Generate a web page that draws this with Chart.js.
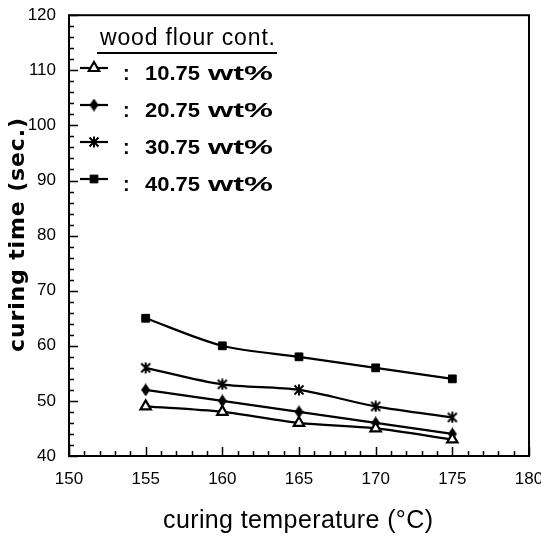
<!DOCTYPE html>
<html>
<head>
<meta charset="utf-8">
<script src="https://cdn.jsdelivr.net/npm/chart.js@4.4.1/dist/chart.umd.min.js"></script>
<style>
  html, body { margin: 0; padding: 0; background: #fff; }
  #wrap { width: 541px; height: 537px; }
</style>
</head>
<body>
<div id="wrap"><canvas id="chart" width="541" height="537"></canvas></div>
<script>
// data
const temps = [155, 160, 165, 170, 175];
const wf1075 = [49, 48, 46, 45, 43];
const wf2075 = [52, 50, 48, 46, 44];
const wf3075 = [56, 53, 52, 49, 47];
const wf4075 = [65, 60, 58, 56, 54];
const seriesLabels = [": 10.75 wt%", ": 20.75 wt%", ": 30.75 wt%", ": 40.75 wt%"];
const xTicks = [150, 155, 160, 165, 170, 175, 180];
const yTicks = [40, 50, 60, 70, 80, 90, 100, 110, 120];

const legendTitle = "wood flour cont.";
const xTitle = "curing temperature (\u00B0C)";
const yTitle = "curing time (sec.)";

const SANS = "'Liberation Sans', Arial, Helvetica, sans-serif";
const WIDE = "'DejaVu Sans', Verdana, sans-serif";

// tall black diamond marker
function tallDiamond(w, h) {
  const c = document.createElement("canvas");
  c.width = w;
  c.height = h;
  const g = c.getContext("2d");
  g.fillStyle = "#000";
  g.beginPath();
  g.moveTo(w / 2, 0);
  g.lineTo(w, h / 2);
  g.lineTo(w / 2, h);
  g.lineTo(0, h / 2);
  g.closePath();
  g.fill();
  return c;
}

// asterisk marker: vertical bar + X
function asterisk(s) {
  const c = document.createElement("canvas");
  c.width = s;
  c.height = s;
  const g = c.getContext("2d");
  g.strokeStyle = "#000";
  g.lineWidth = 2;
  g.beginPath();
  g.moveTo(s / 2, 0.5);
  g.lineTo(s / 2, s - 0.5);
  g.moveTo(1.5, 1.5);
  g.lineTo(s - 1.5, s - 1.5);
  g.moveTo(s - 1.5, 1.5);
  g.lineTo(1.5, s - 1.5);
  g.stroke();
  return c;
}

const diamond = tallDiamond(9, 13);
const star = asterisk(12);

function toPoints(ys) {
  return temps.map((t, i) => ({ x: t, y: ys[i] }));
}

const base = {
  borderColor: "#000",
  borderWidth: 2.2,
  tension: 0.3,
  pointBorderColor: "#000",
};

const datasets = [
  { ...base, label: seriesLabels[0], data: toPoints(wf1075), pointStyle: "triangle", pointRadius: 6, pointBorderWidth: 2.2, pointBackgroundColor: "#fff" },
  { ...base, label: seriesLabels[1], data: toPoints(wf2075), pointStyle: diamond, pointRadius: 6, pointBorderWidth: 0, pointBackgroundColor: "#000" },
  { ...base, label: seriesLabels[2], data: toPoints(wf3075), pointStyle: star, pointRadius: 6, pointBorderWidth: 0, pointBackgroundColor: "#000" },
  { ...base, label: seriesLabels[3], data: toPoints(wf4075), pointStyle: "rect", pointRadius: 5.5, pointBorderWidth: 1, pointBackgroundColor: "#000" },
];

// stretch text to a given width with letter spacing
function fitText(ctx, text, x, y, width) {
  ctx.letterSpacing = "0px";
  const w = ctx.measureText(text).width;
  const sp = (width - w) / Math.max(text.length - 1, 1);
  ctx.letterSpacing = sp + "px";
  ctx.textAlign = "left";
  ctx.fillText(text, x, y);
  ctx.letterSpacing = "0px";
}

// stretch glyphs horizontally to a given width
function stretchText(ctx, text, x, y, width) {
  const w = ctx.measureText(text).width;
  ctx.save();
  ctx.translate(x, y);
  ctx.scale(width / w, 1);
  ctx.textAlign = "left";
  ctx.fillText(text, 0, 0);
  ctx.restore();
}

// frame, inward ticks, titles and the in-plot legend
const framePlugin = {
  id: "frame",
  beforeDatasetsDraw(chart) {
    const ctx = chart.ctx;
    const { left, right, top, bottom } = chart.chartArea;
    const xs = chart.scales.x;
    const ys = chart.scales.y;
    ctx.save();
    ctx.strokeStyle = "#000";
    ctx.lineWidth = 1.5;
    ctx.beginPath();
    for (let v = xs.min; v <= xs.max; v += 1) {
      const px = Math.round(xs.getPixelForValue(v)) + 0.5;
      const len = v % 5 === 0 ? 9 : 5;
      ctx.moveTo(px, bottom);
      ctx.lineTo(px, bottom - len);
    }
    for (let v = ys.min; v <= ys.max; v += 2) {
      const py = Math.round(ys.getPixelForValue(v)) + 0.5;
      const len = v % 10 === 0 ? 9 : 5;
      ctx.moveTo(left, py);
      ctx.lineTo(left + len, py);
    }
    ctx.stroke();
    ctx.lineWidth = 2;
    ctx.strokeRect(left, top, right - left, bottom - top);
    ctx.restore();
  },
  afterDraw(chart) {
    const ctx = chart.ctx;
    ctx.save();
    ctx.fillStyle = "#000";
    ctx.textBaseline = "alphabetic";

    // axis titles
    ctx.font = "25px " + SANS;
    fitText(ctx, xTitle, 163, 528, 270);

    ctx.save();
    ctx.translate(24, 352);
    ctx.rotate(-Math.PI / 2);
    ctx.font = "bold 22px " + WIDE;
    fitText(ctx, yTitle, 0, 0, 234);
    ctx.restore();

    // legend
    ctx.font = "23px " + SANS;
    fitText(ctx, legendTitle, 100, 45, 175);
    ctx.strokeStyle = "#000";
    ctx.lineWidth = 2;
    ctx.beginPath();
    ctx.moveTo(97, 53);
    ctx.lineTo(277, 53);
    ctx.stroke();

    const helpers = Chart.helpers;
    chart.data.datasets.forEach((ds, i) => {
      const ly = 68 + i * 37;
      ctx.lineWidth = 2.2;
      ctx.strokeStyle = "#000";
      ctx.beginPath();
      ctx.moveTo(80, ly);
      ctx.lineTo(108, ly);
      ctx.stroke();
      ctx.fillStyle = ds.pointBackgroundColor;
      ctx.strokeStyle = "#000";
      ctx.lineWidth = ds.pointBorderWidth;
      if (helpers && helpers.drawPoint) {
        helpers.drawPoint(ctx, {
          pointStyle: ds.pointStyle,
          radius: ds.pointRadius,
          borderWidth: ds.pointBorderWidth,
          rotation: 0,
        }, 94, ly);
      }
      // ": 10.75 wt%" laid out in three pieces like the original
      const parts = ds.label.split(" ");
      const by = ly + 12;
      ctx.fillStyle = "#000";
      ctx.font = "bold 20px " + SANS;
      ctx.textAlign = "left";
      ctx.fillText(parts[0], 123, by);
      stretchText(ctx, parts[1], 145, by, 55);
      stretchText(ctx, parts[2], 208, by, 65);
    });
    ctx.restore();
  },
};

new Chart(document.getElementById("chart"), {
  type: "line",
  data: { datasets },
  plugins: [framePlugin],
  options: {
    responsive: false,
    animation: false,
    devicePixelRatio: 1,
    layout: { padding: { top: 13, right: 12, left: 0, bottom: 0 } },
    plugins: {
      legend: { display: false },
      tooltip: { enabled: false },
    },
    scales: {
      x: {
        type: "linear",
        min: 150,
        max: 180,
        grid: { display: false },
        border: { display: false },
        afterBuildTicks: (s) => { s.ticks = xTicks.map((v) => ({ value: v })); },
        afterFit: (s) => { s.height = 81; s.paddingLeft = 0; s.paddingRight = 0; },
        ticks: { color: "#000", padding: 5, maxRotation: 0, font: { family: SANS, size: 17 } },
      },
      y: {
        type: "linear",
        min: 40,
        max: 120,
        grid: { display: false },
        border: { display: false },
        afterBuildTicks: (s) => { s.ticks = yTicks.map((v) => ({ value: v })); },
        afterFit: (s) => { s.width = 69; },
        ticks: { color: "#000", padding: 5, font: { family: SANS, size: 17 } },
      },
    },
  },
});
</script>
</body>
</html>
